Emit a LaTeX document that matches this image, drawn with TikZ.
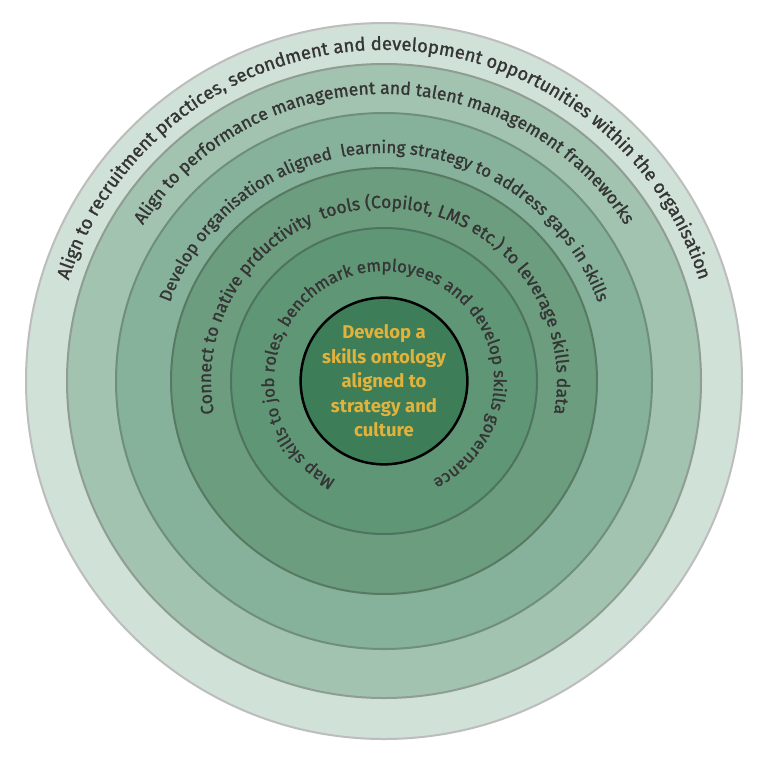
\documentclass[tikz,border=0pt]{standalone}
\usepackage{fontspec}
\setmainfont{Fira Sans}
\newfontfamily\ringfam{Fira Sans}[FakeBold=1.2]
\usetikzlibrary{decorations.text,calc}
\definecolor{fillA}{HTML}{D0E1D7}
\definecolor{lineA}{HTML}{BDBDBD}
\definecolor{fillB}{HTML}{A2C3AF}
\definecolor{lineB}{HTML}{8F9D93}
\definecolor{fillC}{HTML}{86B19A}
\definecolor{lineC}{HTML}{6F8F7B}
\definecolor{fillD}{HTML}{6C9D7F}
\definecolor{lineD}{HTML}{587A64}
\definecolor{fillE}{HTML}{5F9676}
\definecolor{lineE}{HTML}{4E7360}
\definecolor{fillCore}{HTML}{3D7D58}
\definecolor{goldtxt}{HTML}{E2B33C}
\definecolor{ringtxtcol}{HTML}{353535}
\newcommand\ringtxt{\ringfam\fontsize{17}{17}\selectfont\color{ringtxtcol}}
\newcommand\ringtxtmid{\ringfam\fontsize{17.6}{17.6}\selectfont\color{ringtxtcol}}
\newcommand\ringtxtbig{\ringfam\fontsize{18.5}{18.5}\selectfont\color{ringtxtcol}}
\tikzset{
  ring/.style={line width=2pt},
  ringlabel/.style={decorate, decoration={text along path, text align=center, text={#1}}}
}
\begin{document}
\begin{tikzpicture}[x=1pt,y=1pt]
\useasboundingbox (0,0) rectangle (768,-764);
\fill[white] (0,0) rectangle (768,-764);
\coordinate (C) at (384,-381);
\draw[ring, fill=fillA, draw=lineA] (C) circle[radius=358];
\draw[ring, fill=fillB, draw=lineB] (C) circle[radius=317];
\draw[ring, fill=fillC, draw=lineC] (C) circle[radius=268];
\draw[ring, fill=fillD, draw=lineD] (C) circle[radius=213];
\draw[ring, fill=fillE, draw=lineE] (C) circle[radius=153];
\node[circle, draw=black, line width=2.5pt, fill=fillCore, minimum size=164pt, inner sep=0pt,
  text=goldtxt, font=\bfseries\fontsize{18.5}{24.5}\selectfont, align=center] (core) at (C)
  {Develop a\\skills ontology\\aligned to\\strategy and\\culture};
\path[ringlabel={|\ringtxtbig|Align to recruitment practices, secondment and development opportunities within the organisation}]
  ($(C)+(200:331)$) arc[start angle=200, end angle=-20, radius=331];
\path[ringlabel={|\ringtxtmid|Align to performance management and talent management frameworks}]
  ($(C)+(200:287)$) arc[start angle=200, end angle=-20, radius=287];
\path[ringlabel={|\ringtxt|Develop organisation aligned~ learning strategy to address gaps in skills}]
  ($(C)+(200:228)$) arc[start angle=200, end angle=-20, radius=228];
\path[ringlabel={|\ringtxtmid|Connect to native prductivity~ tools (Copilot, LMS etc.) to leverage skills data}]
  ($(C)+(240:173)$) arc[start angle=240, end angle=-60, radius=173];
\path[ringlabel={|\ringtxt|Map skills to job roles, benchmark employees and develop skills governance}]
  ($(C)+(265:110)$) arc[start angle=265, end angle=-85, radius=110];
\end{tikzpicture}
\end{document}
